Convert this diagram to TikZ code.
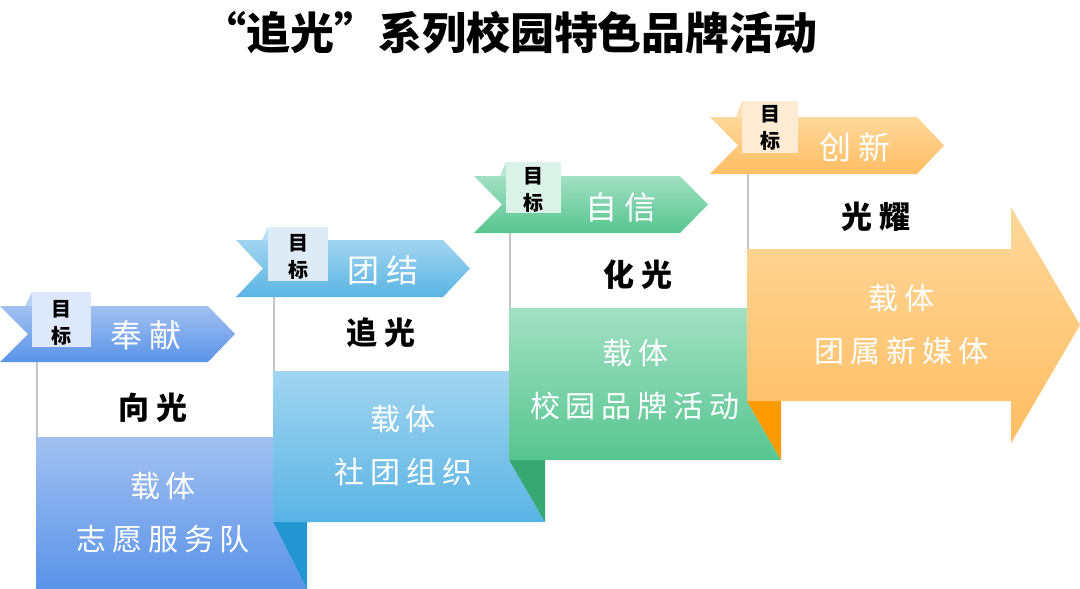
\documentclass[tikz,border=0pt]{standalone}
\usepackage{fontspec}
\setmainfont{Noto Sans CJK SC}
\newfontfamily\cjkwide[LetterSpace=20]{Noto Sans CJK SC}
\usepackage{tikz}
\usetikzlibrary{positioning}
\definecolor{blueA}{HTML}{A2C1F1}
\definecolor{blueB}{HTML}{5A93E8}
\definecolor{blueT}{HTML}{DDE8FA}
\definecolor{cyanA}{HTML}{A2D5F0}
\definecolor{cyanB}{HTML}{5AB4E4}
\definecolor{cyanT}{HTML}{DDEBF7}
\definecolor{cyanD}{HTML}{2396D1}
\definecolor{greenA}{HTML}{A2E0C4}
\definecolor{greenB}{HTML}{57C58F}
\definecolor{greenT}{HTML}{DAF2E7}
\definecolor{greenD}{HTML}{37A874}
\definecolor{orangeA}{HTML}{FFD89A}
\definecolor{orangeB}{HTML}{FFBD63}
\definecolor{orangeT}{HTML}{FDEBD4}
\definecolor{orangeD}{HTML}{FF9A00}
\definecolor{poleGray}{HTML}{C4C4C4}

\begin{document}
\begin{tikzpicture}[x=1pt, y=-1pt,
  pole/.style={poleGray, line width=2.5pt},
  tabtext/.style={font=\fontsize{20}{27}\selectfont\bfseries, align=center, inner sep=0pt},
  goaltext/.style={font=\fontsize{32}{36}\selectfont\cjkwide, text=white, inner sep=0pt},
  keytext/.style={font=\fontsize{31}{34}\selectfont\cjkwide\bfseries, inner sep=0pt},
  cartext/.style={font=\fontsize{30}{53}\selectfont\cjkwide, text=white, align=center, inner sep=0pt}]
\useasboundingbox (0,0) rectangle (1080,589);

%% Title
\node[font=\fontsize{44}{50}\selectfont\bfseries] (title) at (510,33) {“追光”系列校园特色品牌活动};

%% Stage 1: blue
\shade[top color=blueA, bottom color=blueB]
  (36,437) -- (273,437) -- (273,522) -- (307,589) -- (36,589) -- cycle;
\fill[cyanD] (273,522) -- (307,522) -- (307,589) -- cycle;
\draw[pole] (37,362) -- (37,437);
\shade[top color=blueA, bottom color=blueB]
  (0,306) -- (208,306) -- (235,334) -- (208,362) -- (0,362) -- (28,334) -- cycle;
\fill[blueA!75!white] (25,306) -- (32,292) -- (32,306) -- cycle;
\fill[blueT] (32,292) rectangle (91,347);
\node[tabtext] (tabA) at (61.5,323) {目\\标};
\node[goaltext] (goalA) at (146,335) {奉献};
\node[keytext] (keyA) at (153,408) {向光};
\node[cartext] (carA) at (163,513) {载体\\志愿服务队};

%% Stage 2: cyan
\shade[top color=cyanA, bottom color=cyanB]
  (273,371) -- (509,371) -- (509,460) -- (545,522) -- (273,522) -- cycle;
\fill[greenD] (509,460) -- (545,460) -- (545,522) -- cycle;
\draw[pole] (274,297) -- (274,371);
\shade[top color=cyanA, bottom color=cyanB]
  (236,240) -- (443,240) -- (470,268.5) -- (443,297) -- (236,297) -- (263,268.5) -- cycle;
\fill[cyanA!75!white] (262,240) -- (268,227) -- (268,240) -- cycle;
\fill[cyanT] (268,227) rectangle (328,281);
\node[tabtext] (tabB) at (298,257) {目\\标};
\node[goaltext] (goalB) at (383,270) {团结};
\node[keytext] (keyB) at (381,333) {追光};
\node[cartext] (carB) at (403,446) {载体\\社团组织};

%% Stage 3: green
\shade[top color=greenA, bottom color=greenB]
  (509,308) -- (747,308) -- (747,401) -- (781,460) -- (509,460) -- cycle;
\fill[orangeD] (747,401) -- (781,401) -- (781,460) -- cycle;
\draw[pole] (510,233) -- (510,308);
\shade[top color=greenA, bottom color=greenB]
  (474,176) -- (680,176) -- (708,204.5) -- (680,233) -- (474,233) -- (502,204.5) -- cycle;
\fill[greenA!75!white] (500,176) -- (506,162) -- (506,176) -- cycle;
\fill[greenT] (506,162) rectangle (561,213);
\node[tabtext] (tabC) at (533.5,190) {目\\标};
\node[goaltext] (goalC) at (621,207) {自信};
\node[keytext] (keyC) at (638,275) {化光};
\node[cartext] (carC) at (635,380) {载体\\校园品牌活动};

%% Stage 4: orange arrow
\draw[pole] (748,174) -- (748,249);
\shade[top color=orangeA, bottom color=orangeB]
  (747,249) -- (1011,249) -- (1011,207) -- (1080,325) -- (1011,443)
  -- (1011,401) -- (747,401) -- cycle;
\shade[top color=orangeA, bottom color=orangeB]
  (710,117) -- (917,117) -- (944,145.5) -- (917,174) -- (710,174) -- (738,145.5) -- cycle;
\fill[orangeA!75!white] (736,117) -- (742,101) -- (742,117) -- cycle;
\fill[orangeT] (742,101) rectangle (798,153);
\node[tabtext] (tabD) at (770,128) {目\\标};
\node[goaltext] (goalD) at (855,147) {创新};
\node[keytext] (keyD) at (876,217) {光耀};
\node[cartext] (carD) at (901,325) {载体\\团属新媒体};

\end{tikzpicture}
\end{document}
